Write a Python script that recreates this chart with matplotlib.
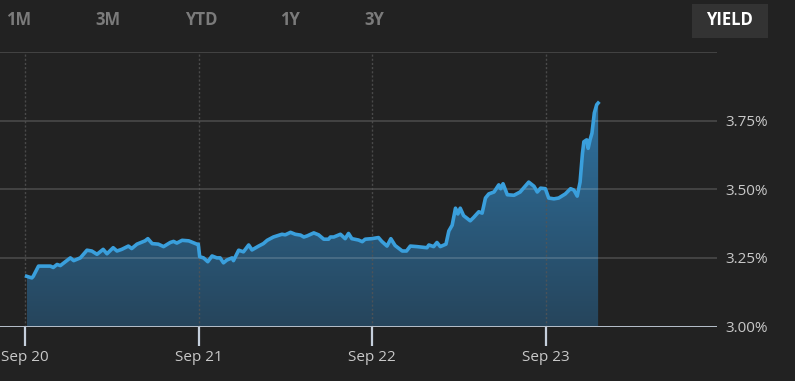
import numpy as np
import pandas as pd
import matplotlib
matplotlib.use("Agg")
import matplotlib.pyplot as plt
import matplotlib.dates as mdates
from matplotlib.colors import LinearSegmentedColormap

# yield history
dates = [
    "2020-09-04", "2020-09-15", "2020-09-18", "2020-09-29", "2020-10-24", "2020-10-30",
    "2020-11-07", "2020-11-14", "2020-12-05", "2020-12-12", "2020-12-26", "2021-01-09",
    "2021-01-19", "2021-01-30", "2021-02-12", "2021-02-20", "2021-03-05", "2021-03-13",
    "2021-03-23", "2021-04-06", "2021-04-13", "2021-04-24", "2021-05-11", "2021-05-17",
    "2021-05-26", "2021-06-08", "2021-06-19", "2021-07-03", "2021-07-10", "2021-07-17",
    "2021-07-28", "2021-08-11", "2021-08-28", "2021-08-31", "2021-09-03", "2021-09-11",
    "2021-09-20", "2021-09-29", "2021-10-09", "2021-10-16", "2021-10-23", "2021-10-30",
    "2021-11-10", "2021-11-13", "2021-11-24", "2021-12-04", "2021-12-15", "2021-12-22",
    "2022-01-05", "2022-01-15", "2022-01-23", "2022-02-05", "2022-02-23", "2022-03-02",
    "2022-03-13", "2022-03-23", "2022-04-03", "2022-04-10", "2022-04-17", "2022-05-01",
    "2022-05-11", "2022-05-22", "2022-06-01", "2022-06-05", "2022-06-12", "2022-06-26",
    "2022-07-06", "2022-07-13", "2022-07-20", "2022-08-03", "2022-08-11", "2022-08-17",
    "2022-08-31", "2022-09-07", "2022-09-14", "2022-09-21", "2022-10-02", "2022-10-10",
    "2022-10-19", "2022-11-03", "2022-11-12", "2022-11-20", "2022-12-04", "2022-12-25",
    "2022-12-29", "2023-01-08", "2023-01-15", "2023-01-22", "2023-02-03", "2023-02-09",
    "2023-02-16", "2023-02-23", "2023-02-28", "2023-03-05", "2023-03-12", "2023-03-26",
    "2023-04-02", "2023-04-13", "2023-04-20", "2023-04-27", "2023-05-04", "2023-05-15",
    "2023-05-25", "2023-05-29", "2023-06-03", "2023-06-12", "2023-06-26", "2023-07-09",
    "2023-07-27", "2023-08-07", "2023-08-14", "2023-08-21", "2023-08-31", "2023-09-07",
    "2023-09-18", "2023-09-28", "2023-10-12", "2023-10-23", "2023-10-30", "2023-11-06",
    "2023-11-12", "2023-11-17", "2023-11-20", "2023-11-26", "2023-11-29", "2023-12-03",
    "2023-12-07", "2023-12-12", "2023-12-17", "2023-12-20",
]
yields = [
    3.183, 3.177, 3.183, 3.220, 3.220, 3.215,
    3.226, 3.222, 3.250, 3.240, 3.250, 3.278,
    3.275, 3.263, 3.281, 3.265, 3.287, 3.275,
    3.281, 3.293, 3.284, 3.300, 3.312, 3.320,
    3.302, 3.300, 3.291, 3.306, 3.310, 3.304,
    3.314, 3.312, 3.300, 3.300, 3.254, 3.250,
    3.236, 3.257, 3.250, 3.250, 3.232, 3.242,
    3.250, 3.240, 3.278, 3.272, 3.297, 3.279,
    3.293, 3.302, 3.314, 3.326, 3.336, 3.334,
    3.343, 3.336, 3.333, 3.326, 3.330, 3.341,
    3.334, 3.318, 3.318, 3.326, 3.326, 3.336,
    3.320, 3.339, 3.320, 3.315, 3.309, 3.318,
    3.320, 3.322, 3.324, 3.310, 3.293, 3.320,
    3.295, 3.275, 3.275, 3.293, 3.291, 3.287,
    3.297, 3.291, 3.306, 3.291, 3.300, 3.348,
    3.369, 3.431, 3.410, 3.431, 3.404, 3.385,
    3.397, 3.418, 3.413, 3.468, 3.483, 3.490,
    3.516, 3.502, 3.520, 3.480, 3.478, 3.490,
    3.526, 3.511, 3.490, 3.504, 3.502, 3.468,
    3.465, 3.468, 3.483, 3.502, 3.497, 3.475,
    3.526, 3.630, 3.673, 3.680, 3.649, 3.680,
    3.704, 3.778, 3.808, 3.814,
]
x_ticks = ["2020-09-01", "2021-09-01", "2022-09-01", "2023-09-01"]
x_tick_labels = ["Sep 20", "Sep 21", "Sep 22", "Sep 23"]
y_ticks = [3.00, 3.25, 3.50, 3.75]
buttons = ["1M", "3M", "YTD", "1Y", "3Y"]

W, H = 795, 381
bg = "#222222"
line_col = "#3a9fdc"

x = mdates.date2num(pd.to_datetime(dates))
xt = mdates.date2num(pd.to_datetime(x_ticks))
xmin = mdates.date2num(pd.Timestamp("2020-07-10"))
xmax = mdates.date2num(pd.Timestamp("2024-08-26"))
ymin, ymax = 3.0, 4.0

fig = plt.figure(figsize=(W / 100, H / 100), dpi=100, facecolor=bg)
ax = fig.add_axes([0, 1 - 326.5 / H, 717 / W, (326.5 - 52) / H])
ax.set_facecolor(bg)

# gradient area under the line
grad = np.linspace(0, 1, 256).reshape(-1, 1)
cmap = LinearSegmentedColormap.from_list("area", ["#26455c", "#2f72a0"])
im = ax.imshow(grad, extent=[x[0], x[-1], ymin, max(yields)], origin="lower",
               aspect="auto", cmap=cmap, zorder=1, interpolation="bilinear")
poly = ax.fill_between(x, yields, ymin, facecolor="none", edgecolor="none")
im.set_clip_path(poly.get_paths()[0], transform=ax.transData)

ax.plot(x, yields, color=line_col, lw=2.6, zorder=4, solid_joinstyle="round")

ax.set_xlim(xmin, xmax)
ax.set_ylim(ymin, ymax)

# grid
for v in y_ticks[1:] + [4.0]:
    ax.axhline(v, color="white", alpha=0.15, lw=1.4, zorder=2)
for t in xt:
    ax.axvline(t, color="#555555", lw=1, ls=(0, (1.5, 1.5)), alpha=0.8, zorder=2)
ax.axhline(ymin, color="#c5cfdc", lw=2, zorder=5)

for s in ax.spines.values():
    s.set_visible(False)

ax.set_xticks(xt)
ax.set_xticklabels(x_tick_labels)
ax.tick_params(axis="x", colors="#c5cfdc", length=14, width=1.6, pad=3,
               labelsize=11, labelcolor="#c8c8c8")
ax.yaxis.tick_right()
ax.set_yticks(y_ticks)
ax.set_yticklabels([f"{v:.2f}%" for v in y_ticks])
ax.tick_params(axis="y", length=0, pad=6, labelsize=11, labelcolor="#c8c8c8")
for lab in ax.get_xticklabels() + ax.get_yticklabels():
    lab.set_fontfamily("Open Sans")

# range buttons
btn_x = [19, 108, 201, 290, 374]
for b, bx in zip(buttons, btn_x):
    fig.text(bx / W, 1 - 20 / H, b, color="#7b7b7b", fontsize=12, fontweight="bold",
             ha="center", va="center", family="Open Sans")
fig.patches.append(plt.Rectangle((692 / W, 1 - 38 / H), 76 / W, 34 / H,
                                 transform=fig.transFigure, facecolor="#333333",
                                 edgecolor="none"))
fig.text(729 / W, 1 - 20 / H, "YIELD", color="white", fontsize=12, fontweight="bold",
         ha="center", va="center", family="Open Sans")

fig.savefig("out.png", dpi=100, facecolor=bg)
